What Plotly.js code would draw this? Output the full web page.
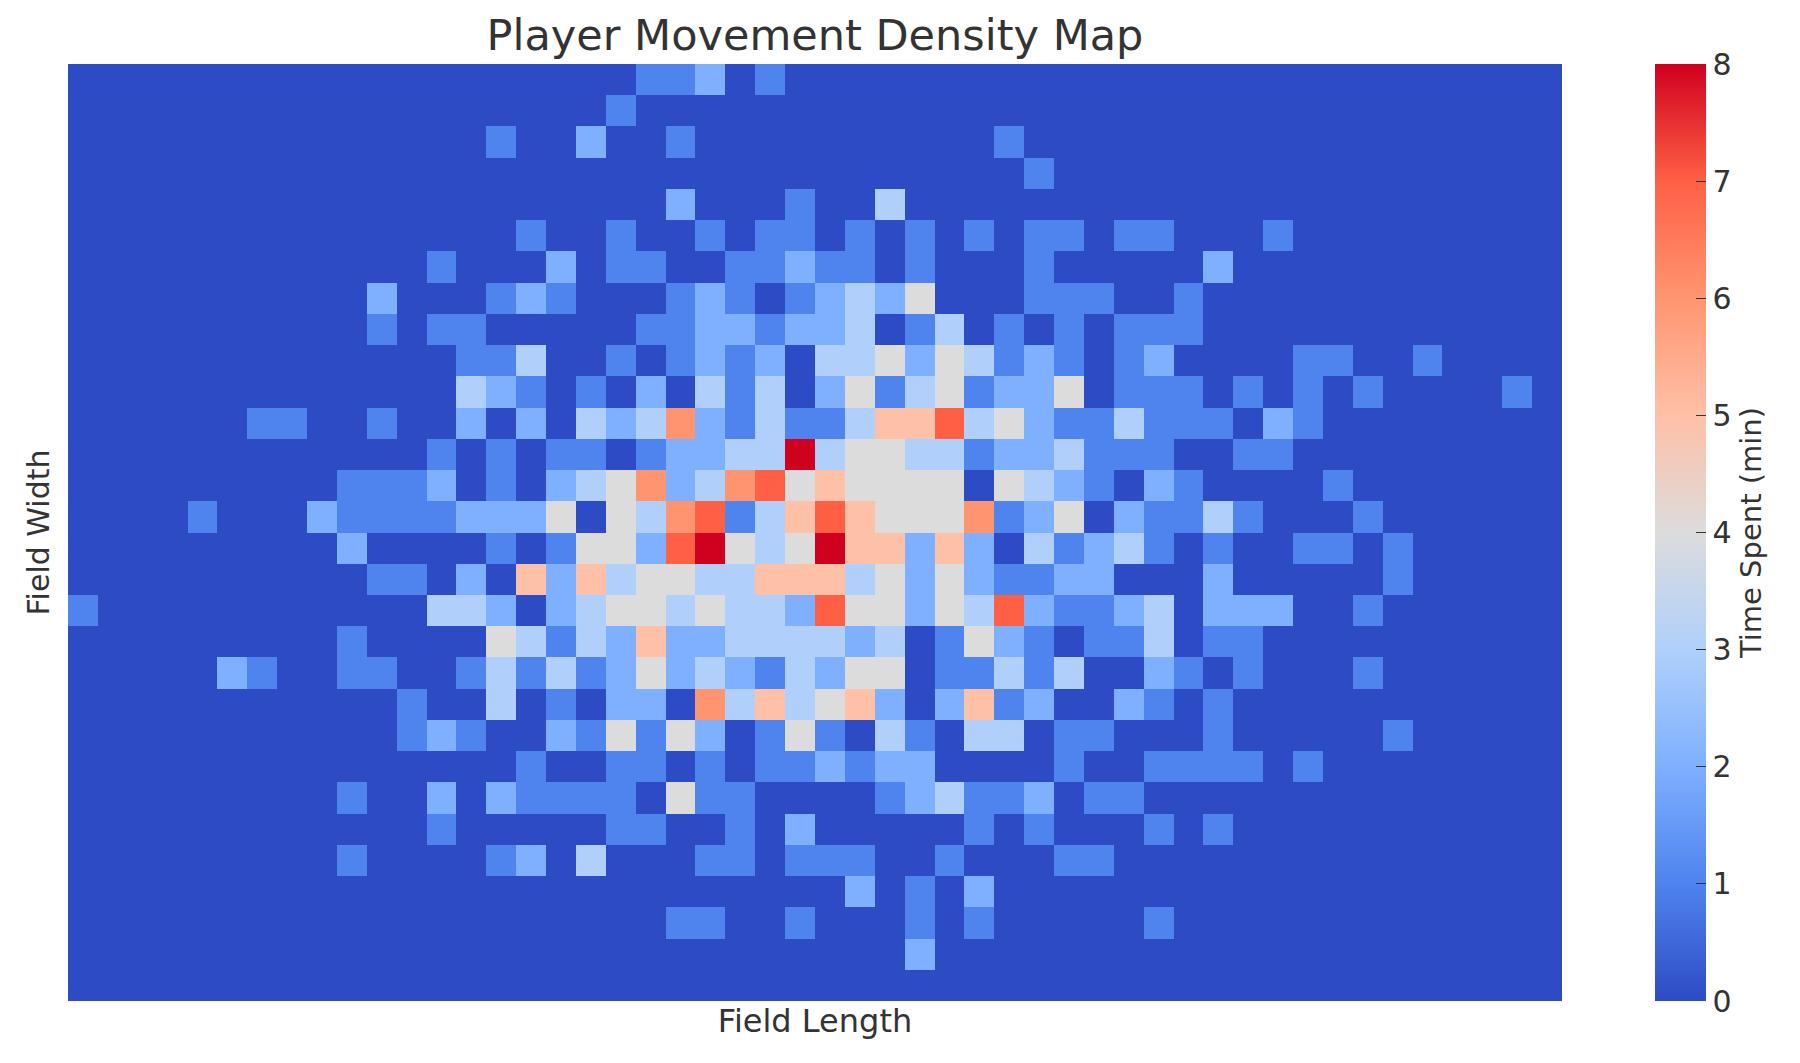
<!DOCTYPE html>
<html>
<head>
<meta charset="utf-8">
<title>Player Movement Density Map</title>
<script src="https://cdn.plot.ly/plotly-3.0.1.min.js"></script>
<style>
    body { margin: 0; background: white; }
</style>
</head>
<body>
<div id="graph"></div>
<script>
// Minutes spent per field cell. Row 0 is the top row, 50 columns each.
var timeSpent = [
    [0,0,0,0,0,0,0,0,0,0, 0,0,0,0,0,0,0,0,0,1, 1,2,0,1,0,0,0,0,0,0, 0,0,0,0,0,0,0,0,0,0, 0,0,0,0,0,0,0,0,0,0],
    [0,0,0,0,0,0,0,0,0,0, 0,0,0,0,0,0,0,0,1,0, 0,0,0,0,0,0,0,0,0,0, 0,0,0,0,0,0,0,0,0,0, 0,0,0,0,0,0,0,0,0,0],
    [0,0,0,0,0,0,0,0,0,0, 0,0,0,0,1,0,0,2,0,0, 1,0,0,0,0,0,0,0,0,0, 0,1,0,0,0,0,0,0,0,0, 0,0,0,0,0,0,0,0,0,0],
    [0,0,0,0,0,0,0,0,0,0, 0,0,0,0,0,0,0,0,0,0, 0,0,0,0,0,0,0,0,0,0, 0,0,1,0,0,0,0,0,0,0, 0,0,0,0,0,0,0,0,0,0],
    [0,0,0,0,0,0,0,0,0,0, 0,0,0,0,0,0,0,0,0,0, 2,0,0,0,1,0,0,3,0,0, 0,0,0,0,0,0,0,0,0,0, 0,0,0,0,0,0,0,0,0,0],
    [0,0,0,0,0,0,0,0,0,0, 0,0,0,0,0,1,0,0,1,0, 0,1,0,1,1,0,1,0,1,0, 1,0,1,1,0,1,1,0,0,0, 1,0,0,0,0,0,0,0,0,0],
    [0,0,0,0,0,0,0,0,0,0, 0,0,1,0,0,0,2,0,1,1, 0,0,1,1,2,1,1,0,1,0, 0,0,1,0,0,0,0,0,2,0, 0,0,0,0,0,0,0,0,0,0],
    [0,0,0,0,0,0,0,0,0,0, 2,0,0,0,1,2,1,0,0,0, 1,2,1,0,1,2,3,2,4,0, 0,0,1,1,1,0,0,1,0,0, 0,0,0,0,0,0,0,0,0,0],
    [0,0,0,0,0,0,0,0,0,0, 1,0,1,1,0,0,0,0,0,1, 1,2,2,1,2,2,3,0,1,3, 0,1,0,1,0,1,1,1,0,0, 0,0,0,0,0,0,0,0,0,0],
    [0,0,0,0,0,0,0,0,0,0, 0,0,0,1,1,3,0,0,1,0, 1,2,1,2,0,3,3,4,2,4, 3,1,2,1,0,1,2,0,0,0, 0,1,1,0,0,1,0,0,0,0],
    [0,0,0,0,0,0,0,0,0,0, 0,0,0,3,2,1,0,1,0,2, 0,3,1,3,0,2,4,1,3,4, 1,2,2,4,0,1,1,1,0,1, 0,1,0,1,0,0,0,0,1,0],
    [0,0,0,0,0,0,1,1,0,0, 1,0,0,2,0,2,0,3,2,3, 6,2,1,3,1,1,3,5,5,7, 3,4,2,1,1,3,1,1,1,0, 2,1,0,0,0,0,0,0,0,0],
    [0,0,0,0,0,0,0,0,0,0, 0,0,1,0,1,0,1,1,0,1, 2,2,3,3,8,3,4,4,3,3, 1,2,2,3,1,1,1,0,0,1, 1,0,0,0,0,0,0,0,0,0],
    [0,0,0,0,0,0,0,0,0,1, 1,1,2,0,1,0,2,3,4,6, 2,3,6,7,4,5,4,4,4,4, 0,4,3,2,1,0,2,1,0,0, 0,0,1,0,0,0,0,0,0,0],
    [0,0,0,0,1,0,0,0,2,1, 1,1,1,2,2,2,4,0,4,3, 6,7,1,3,5,7,5,4,4,4, 6,1,2,4,0,2,1,1,3,1, 0,0,0,1,0,0,0,0,0,0],
    [0,0,0,0,0,0,0,0,0,2, 0,0,0,0,1,0,1,4,4,2, 7,8,4,3,4,8,5,5,2,5, 2,0,3,1,2,3,1,0,1,0, 0,1,1,0,1,0,0,0,0,0],
    [0,0,0,0,0,0,0,0,0,0, 1,1,0,2,0,5,2,5,3,4, 4,3,3,5,5,5,3,4,2,4, 2,1,1,2,2,0,0,0,2,0, 0,0,0,0,1,0,0,0,0,0],
    [1,0,0,0,0,0,0,0,0,0, 0,0,3,3,2,0,2,3,4,4, 3,4,3,3,2,7,4,4,2,4, 3,7,2,1,1,2,3,0,2,2, 2,0,0,1,0,0,0,0,0,0],
    [0,0,0,0,0,0,0,0,0,1, 0,0,0,0,4,3,1,3,2,5, 2,2,3,3,3,3,2,3,0,1, 4,2,1,0,1,1,3,0,1,1, 0,0,0,0,0,0,0,0,0,0],
    [0,0,0,0,0,2,1,0,0,1, 1,0,0,1,3,1,3,1,2,4, 2,3,2,1,3,2,4,4,0,1, 1,3,1,3,0,0,2,1,0,1, 0,0,0,1,0,0,0,0,0,0],
    [0,0,0,0,0,0,0,0,0,0, 0,1,0,0,3,0,1,0,2,2, 0,6,3,5,3,4,5,2,0,2, 5,1,2,0,0,2,1,0,1,0, 0,0,0,0,0,0,0,0,0,0],
    [0,0,0,0,0,0,0,0,0,0, 0,1,2,1,0,0,2,1,4,1, 4,2,0,1,4,1,0,3,1,0, 3,3,0,1,1,0,0,0,1,0, 0,0,0,0,1,0,0,0,0,0],
    [0,0,0,0,0,0,0,0,0,0, 0,0,0,0,0,1,0,0,1,1, 0,1,0,1,1,2,1,2,2,0, 0,0,0,1,0,0,1,1,1,1, 0,1,0,0,0,0,0,0,0,0],
    [0,0,0,0,0,0,0,0,0,1, 0,0,2,0,2,1,1,1,1,0, 4,1,1,0,0,0,0,1,2,3, 1,1,2,0,1,1,0,0,0,0, 0,0,0,0,0,0,0,0,0,0],
    [0,0,0,0,0,0,0,0,0,0, 0,0,1,0,0,0,0,0,1,1, 0,0,1,0,2,0,0,0,0,0, 1,0,1,0,0,0,1,0,1,0, 0,0,0,0,0,0,0,0,0,0],
    [0,0,0,0,0,0,0,0,0,1, 0,0,0,0,1,2,0,3,0,0, 0,1,1,0,1,1,1,0,0,1, 0,0,0,1,1,0,0,0,0,0, 0,0,0,0,0,0,0,0,0,0],
    [0,0,0,0,0,0,0,0,0,0, 0,0,0,0,0,0,0,0,0,0, 0,0,0,0,0,0,2,0,1,0, 2,0,0,0,0,0,0,0,0,0, 0,0,0,0,0,0,0,0,0,0],
    [0,0,0,0,0,0,0,0,0,0, 0,0,0,0,0,0,0,0,0,0, 1,1,0,0,1,0,0,0,1,0, 1,0,0,0,0,0,1,0,0,0, 0,0,0,0,0,0,0,0,0,0],
    [0,0,0,0,0,0,0,0,0,0, 0,0,0,0,0,0,0,0,0,0, 0,0,0,0,0,0,0,0,2,0, 0,0,0,0,0,0,0,0,0,0, 0,0,0,0,0,0,0,0,0,0],
    [0,0,0,0,0,0,0,0,0,0, 0,0,0,0,0,0,0,0,0,0, 0,0,0,0,0,0,0,0,0,0, 0,0,0,0,0,0,0,0,0,0, 0,0,0,0,0,0,0,0,0,0]
];

var scaleStops = [0, 0.125, 0.25, 0.375, 0.5, 0.625, 0.75, 0.875, 1];
var scaleColors = ['#2d4bc5', '#4f83ee', '#7eb0ff', '#b0d0fb', '#dcdcdc', '#ffc0a8', '#ff9570', '#ff6045', '#d0001f'];
var colorbarTicks = [0, 1, 2, 3, 4, 5, 6, 7, 8];

var textColor = '#333333';
var fontName = 'DejaVu Sans';

var trace = {
    z: timeSpent,
    type: 'heatmap',
    zmin: 0,
    zmax: 8,
    colorscale: scaleStops.map(function(stop, i) { return [stop, scaleColors[i]]; }),
    colorbar: {
        title: { text: 'Time Spent (min)', side: 'right', font: { family: fontName, size: 29, color: textColor } },
        x: 1.0622,
        xanchor: 'left',
        xpad: 0,
        y: 0.5,
        yanchor: 'middle',
        ypad: 0,
        len: 1,
        thickness: 51,
        outlinewidth: 0,
        ticks: 'inside',
        ticklen: 10,
        tickcolor: textColor,
        tickmode: 'array',
        tickvals: colorbarTicks,
        ticktext: colorbarTicks.map(String),
        tickfont: { family: fontName, size: 30, color: textColor }
    }
};

var layout = {
    width: 1800,
    height: 1063,
    paper_bgcolor: 'white',
    plot_bgcolor: 'white',
    margin: { l: 68, r: 238, t: 64, b: 62 },
    font: { family: fontName, color: textColor },
    title: {
        text: 'Player Movement Density Map',
        font: { family: fontName, size: 43, color: textColor },
        xref: 'paper',
        x: 0.5,
        xanchor: 'center',
        yref: 'container',
        y: 0.967,
        yanchor: 'middle'
    },
    xaxis: {
        title: { text: 'Field Length', font: { family: fontName, size: 32, color: textColor }, standoff: 8 },
        showticklabels: false,
        ticks: '',
        showgrid: false,
        zeroline: false,
        showline: false
    },
    yaxis: {
        title: { text: 'Field Width', font: { family: fontName, size: 30, color: textColor }, standoff: 8 },
        autorange: 'reversed',
        showticklabels: false,
        ticks: '',
        showgrid: false,
        zeroline: false,
        showline: false
    }
};

Plotly.newPlot('graph', [trace], layout, { displayModeBar: false });
</script>
</body>
</html>
